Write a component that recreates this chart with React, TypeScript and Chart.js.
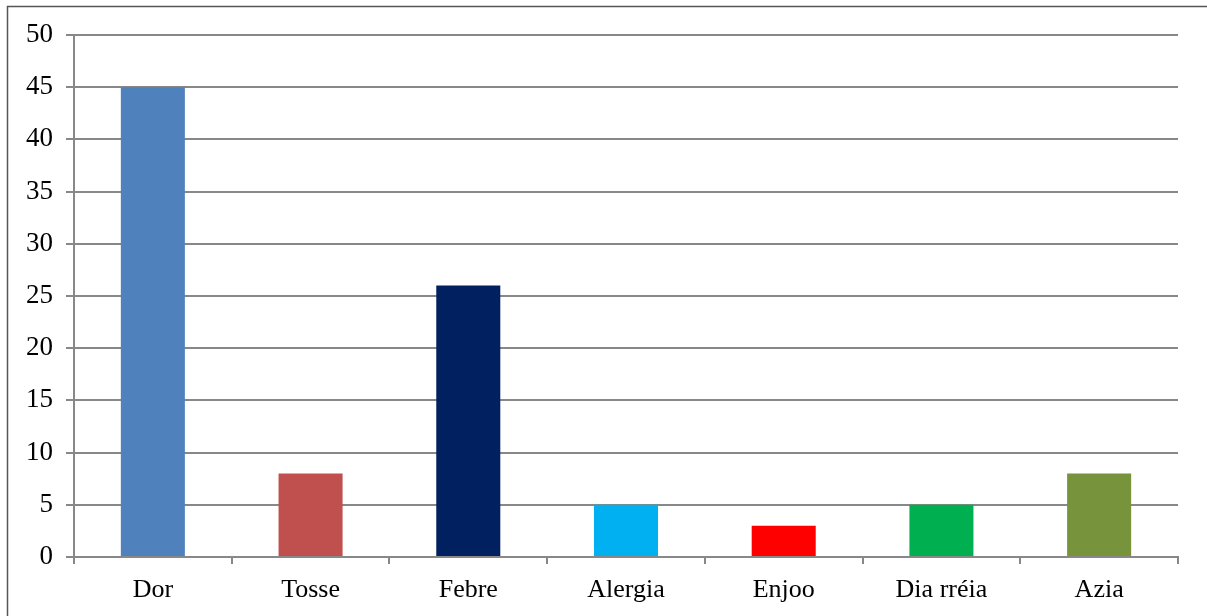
import React, { useEffect, useRef } from "react";
import { Chart, registerables } from "chart.js";

Chart.register(...registerables);

const categories = ["Dor", "Tosse", "Febre", "Alergia", "Enjoo", "Dia rréia", "Azia"];
const values = [45, 8, 26, 5, 3, 5, 8];
const barColors = ["#4F81BD", "#C0504D", "#002060", "#00B0F0", "#FF0000", "#00B050", "#77933C"];
const yMin = 0;
const yMax = 50;
const yStep = 5;

const framePlugin = {
  id: "frame",
  afterDraw(chart: any) {
    const ctx = chart.ctx;
    ctx.save();
    ctx.strokeStyle = "#555555";
    ctx.lineWidth = 1.5;
    ctx.beginPath();
    ctx.moveTo(7.5, 616);
    ctx.lineTo(7.5, 6.5);
    ctx.lineTo(1207, 6.5);
    ctx.stroke();
    ctx.restore();
  },
};

export default function App() {
  const ref = useRef<HTMLCanvasElement>(null);
  useEffect(() => {
    if (!ref.current) return;
    const chart = new Chart(ref.current, {
      type: "bar",
      data: {
        labels: categories,
        datasets: [
          {
            data: values,
            backgroundColor: barColors,
            borderWidth: 0,
            barPercentage: 0.406,
            categoryPercentage: 1,
          },
        ],
      },
      options: {
        animation: false,
        responsive: false,
        devicePixelRatio: 1,
        layout: { padding: { left: 0, right: 29, top: 35, bottom: 0 } },
        plugins: { legend: { display: false }, tooltip: { enabled: false } },
        scales: {
          x: {
            offset: true,
            grid: {
              offset: true,
              drawOnChartArea: false,
              drawTicks: true,
              tickLength: 7,
              color: "#888888",
              lineWidth: 2,
            },
            border: { color: "#888888", width: 2 },
            ticks: {
              color: "#000000",
              padding: 11,
              font: { family: "Liberation Serif", size: 26 },
            },
            afterFit(scale: any) {
              scale.height = 59;
            },
          },
          y: {
            min: yMin,
            max: yMax,
            ticks: {
              stepSize: yStep,
              color: "#000000",
              padding: 13,
              font: { family: "Liberation Serif", size: 27 },
            },
            grid: {
              color: "#888888",
              lineWidth: 2,
              tickLength: 8,
              drawTicks: true,
            },
            border: { color: "#888888", width: 2 },
            afterFit(scale: any) {
              scale.width = 74;
            },
          },
        },
      },
      plugins: [framePlugin],
    });
    return () => chart.destroy();
  }, []);
  return (
    <div style={{ position: "fixed", left: 0, top: 0, width: 1207, height: 616, background: "#fff" }}>
      <canvas ref={ref} width={1207} height={616} style={{ display: "block" }} />
    </div>
  );
}
